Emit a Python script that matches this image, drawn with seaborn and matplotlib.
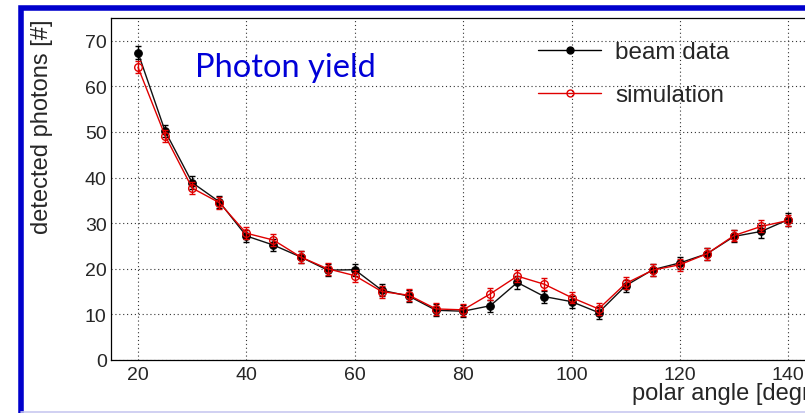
import numpy as np
import pandas as pd
import matplotlib
matplotlib.use("Agg")
import matplotlib.pyplot as plt
import seaborn as sns
from matplotlib.lines import Line2D
from matplotlib.patches import Rectangle
from matplotlib.ticker import MultipleLocator

# ---- data ----
angle = [20, 25, 30, 35, 40, 45, 50, 55, 60, 65, 70, 75, 80,
         85, 90, 95, 100, 105, 110, 115, 120, 125, 130, 135, 140]
beam = [67.4, 50.2, 38.9, 34.7, 27.2, 25.2, 22.6, 19.7, 19.8, 15.3, 14.0, 10.9, 10.7,
        11.9, 17.0, 13.9, 12.8, 10.4, 16.3, 19.8, 21.3, 23.3, 27.1, 28.2, 30.8]
beam_err = [1.4, 1.4, 1.4, 1.3, 1.3, 1.3, 1.3, 1.3, 1.3, 1.3, 1.3, 1.3, 1.3,
            1.3, 1.4, 1.3, 1.3, 1.3, 1.3, 1.3, 1.3, 1.3, 1.3, 1.4, 1.4]
sim = [64.2, 49.2, 37.7, 34.5, 27.8, 26.3, 22.6, 20.0, 18.5, 15.0, 14.2, 11.2, 11.0,
       14.5, 18.4, 16.6, 13.7, 11.2, 16.8, 19.7, 20.9, 23.3, 27.3, 29.3, 30.6]
sim_err = [1.3, 1.3, 1.3, 1.3, 1.3, 1.3, 1.3, 1.3, 1.3, 1.3, 1.3, 1.3, 1.3,
           1.3, 1.3, 1.3, 1.3, 1.3, 1.3, 1.3, 1.3, 1.3, 1.3, 1.3, 1.3]
series_names = ["beam data", "simulation"]
title_text = "Photon yield"
xlabel_text = "polar angle [degree]"
ylabel_text = "detected photons [#]"

sns.set_style("white")
plt.rcParams["font.family"] = ["Liberation Sans", "DejaVu Sans"]

W, H = 805, 414
fig = plt.figure(figsize=(W / 100, H / 100), dpi=100)
fig.patch.set_facecolor("white")

# blue slide frame
fig.patches.append(Rectangle((21 / W, -0.2), 2.0, (H - 8.5) / H + 0.2,
                             transform=fig.transFigure, fill=False,
                             edgecolor="#0000CC", linewidth=4.0, zorder=0))
fig.add_artist(Line2D([21 / W, 1.0], [1.5 / H, 1.5 / H], transform=fig.transFigure,
                      color="#C8C8F0", linewidth=1.2))

ax = fig.add_axes([110.9 / W, (H - 361) / H, 731.6 / W, 342 / H])

df_b = pd.DataFrame({"angle": angle, "value": beam, "err": beam_err})
df_s = pd.DataFrame({"angle": angle, "value": sim, "err": sim_err})

ax.errorbar(df_b["angle"], df_b["value"], yerr=df_b["err"], fmt="none",
            ecolor="black", elinewidth=1.0, capsize=2.5, capthick=1.0, zorder=3)
sns.lineplot(data=df_b, x="angle", y="value", ax=ax, color="#111111", lw=1.0,
             marker="o", markersize=5.5, markerfacecolor="black",
             markeredgecolor="black", zorder=4, legend=False)
ax.errorbar(df_s["angle"], df_s["value"], yerr=df_s["err"], fmt="none",
            ecolor="#E00000", elinewidth=1.0, capsize=2.5, capthick=1.0, zorder=5)
sns.lineplot(data=df_s, x="angle", y="value", ax=ax, color="#E00000", lw=1.0,
             marker="o", markersize=5.5, markerfacecolor="none",
             markeredgecolor="#E00000", markeredgewidth=1.0, zorder=6, legend=False)

ax.set_xlim(15, 150)
ax.set_ylim(0, 75)
ax.xaxis.set_major_locator(MultipleLocator(20))
ax.xaxis.set_minor_locator(MultipleLocator(5))
ax.yaxis.set_major_locator(MultipleLocator(10))
ax.yaxis.set_minor_locator(MultipleLocator(2))
ax.tick_params(which="both", direction="in", top=False, right=False,
               color="black", width=0.8)
ax.tick_params(which="major", length=7.2, labelsize=14)
ax.tick_params(axis="x", which="major", pad=4.5)
ax.tick_params(axis="y", which="major", pad=3)
ax.tick_params(which="minor", length=4.3)
for s in ax.spines.values():
    s.set_color("black")
    s.set_linewidth(0.9)
ax.grid(True, which="major", color="#333333", linestyle=(0, (1, 2.5)), linewidth=0.8)

ax.set_xlabel(xlabel_text, fontsize=17, loc="right")
ax.xaxis.set_label_coords(1.0, -0.065)
ax.set_ylabel(ylabel_text, fontsize=17, loc="top")
ax.yaxis.set_label_coords(-0.079, 1.0)

fig.text(195 / W, (H - 77.3) / H, title_text, fontsize=23.5, color="#0000D8",
         family=["Lato", "DejaVu Sans"], ha="left", va="baseline")

handles = [
    Line2D([], [], color="black", lw=1.0, marker="o", markersize=5,
           markerfacecolor="black", markeredgecolor="black"),
    Line2D([], [], color="#E00000", lw=1.0, marker="o", markersize=5,
           markerfacecolor="none", markeredgecolor="#E00000"),
]
ax.legend(handles, series_names, loc="upper left", frameon=False, fontsize=17.5,
          bbox_to_anchor=(538 / W, (H - 42) / H), bbox_transform=fig.transFigure,
          borderpad=0, borderaxespad=0, handlelength=2.6, handletextpad=0.58,
          labelspacing=0.88)

fig.savefig("out.png", dpi=100)
